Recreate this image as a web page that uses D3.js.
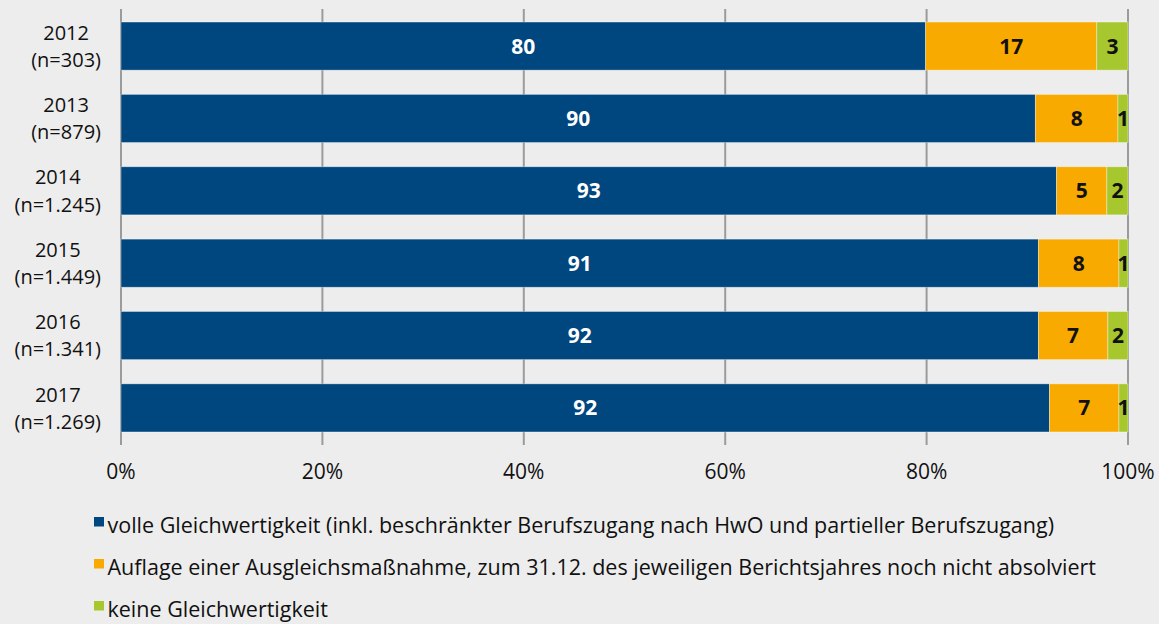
<!DOCTYPE html>
<html>
<head>
<meta charset="utf-8">
<script src="https://cdn.jsdelivr.net/npm/d3@7"></script>
<style>
    body { margin: 0; background: #ededed; }
    svg { display: block; font-family: "Open Sans", sans-serif; }
    .cat-label { font-size: 20px; fill: #111; }
    .tick-label { font-size: 21px; fill: #111; }
    .legend-text { font-size: 21.5px; fill: #111; }
    .value { font-size: 21px; font-weight: bold; }
</style>
</head>
<body>
<script>
const years = ["2012", "2013", "2014", "2015", "2016", "2017"]
const counts = ["n=303", "n=879", "n=1.245", "n=1.449", "n=1.341", "n=1.269"]

// shares as drawn (percent), and the rounded numbers printed on the bars
const fullShare = [79.9, 90.8, 92.9, 91.1, 91.1, 92.2]
const measureShare = [17.0, 8.2, 5.0, 8.0, 6.9, 6.9]
const noneShare = [3.1, 1.0, 2.1, 0.9, 2.0, 0.9]

const fullLabel = [80, 90, 93, 91, 92, 92]
const measureLabel = [17, 8, 5, 8, 7, 7]
const noneLabel = [3, 1, 2, 1, 2, 1]

const ticks = [0, 20, 40, 60, 80, 100]

const seriesNames = [
    "volle Gleichwertigkeit (inkl. beschränkter Berufszugang nach HwO und partieller Berufszugang)",
    "Auflage einer Ausgleichsmaßnahme, zum 31.12. des jeweiligen Berichtsjahres noch nicht absolviert",
    "keine Gleichwertigkeit"
]

const COLORS = ["#00467f", "#f9aa00", "#a6c82e"]
const TEXT_COLORS = ["#ffffff", "#111111", "#111111"]

const WIDTH = 1159
const HEIGHT = 624

const PLOT = {
    left: 121,
    right: 1128,
    top: 9,
    bottom: 445
}

const keys = ["full", "measure", "none"]
const rows = years.map((y, i) => ({
    year: y,
    n: counts[i],
    full: fullShare[i],
    measure: measureShare[i],
    none: noneShare[i],
    labels: [fullLabel[i], measureLabel[i], noneLabel[i]]
}))

const stacked = d3.stack().keys(keys)(rows)

const svg = d3.select("body")
    .append("svg")
    .attr("width", WIDTH)
    .attr("height", HEIGHT)

svg.append("rect")
    .attr("width", WIDTH)
    .attr("height", HEIGHT)
    .attr("fill", "#ededed")

const xScale = d3.scaleLinear()
    .domain([0, 100])
    .range([PLOT.left, PLOT.right])

const yScale = d3.scaleBand()
    .domain(years)
    .range([PLOT.top, PLOT.bottom])
    .paddingInner(0.335)
    .paddingOuter(0.18)

// gridlines
svg.append("g")
    .selectAll("line")
    .data(ticks)
    .enter()
    .append("line")
    .attr("x1", d => xScale(d))
    .attr("x2", d => xScale(d))
    .attr("y1", PLOT.top)
    .attr("y2", PLOT.bottom)
    .attr("stroke", "#9b9b9b")
    .attr("stroke-width", 2)

// bars
const layers = svg.append("g")
    .selectAll("g")
    .data(stacked)
    .enter()
    .append("g")
    .attr("fill", (d, i) => COLORS[i])

layers.selectAll("rect")
    .data(d => d)
    .enter()
    .append("rect")
    .attr("x", d => xScale(d[0]))
    .attr("y", d => yScale(d.data.year))
    .attr("width", d => xScale(d[1]) - xScale(d[0]))
    .attr("height", yScale.bandwidth())
    .attr("stroke", "rgba(255,255,255,0.45)")
    .attr("stroke-width", 0.8)

// value labels
stacked.forEach((layer, i) => {
    svg.append("g")
        .selectAll("text")
        .data(layer)
        .enter()
        .append("text")
        .attr("class", "value")
        .attr("x", d => (xScale(d[0]) + xScale(d[1])) / 2)
        .attr("y", d => yScale(d.data.year) + yScale.bandwidth() / 2)
        .attr("dy", "0.36em")
        .attr("text-anchor", "middle")
        .attr("fill", TEXT_COLORS[i])
        .text(d => d.data.labels[i])
})

// category labels: one text, two centred lines, block right-aligned at x=101
svg.append("g")
    .selectAll("text")
    .data(rows)
    .enter()
    .append("text")
    .attr("class", "cat-label")
    .attr("text-anchor", "middle")
    .each(function (d) {
        const t = d3.select(this)
        const cy = yScale(d.year) + yScale.bandwidth() / 2
        const s1 = t.append("tspan")
            .attr("y", cy - 13.6)
            .attr("dy", "0.36em")
            .text(d.year)
        const s2 = t.append("tspan")
            .attr("y", cy + 13.6)
            .attr("dy", "0.36em")
            .text("(" + d.n + ")")
        const w = Math.max(s1.node().getComputedTextLength(), s2.node().getComputedTextLength())
        s1.attr("x", 101 - w / 2)
        s2.attr("x", 101 - w / 2)
    })

// x tick labels
svg.append("g")
    .selectAll("text")
    .data(ticks)
    .enter()
    .append("text")
    .attr("class", "tick-label")
    .attr("x", d => xScale(d))
    .attr("y", 471)
    .attr("dy", "0.36em")
    .attr("text-anchor", "middle")
    .text(d => d + "%")

// legend
const legend = svg.append("g")
    .selectAll("g")
    .data(seriesNames)
    .enter()
    .append("g")
    .attr("transform", (d, i) => "translate(0, " + (533 + i * 42) + ")")

legend.append("rect")
    .attr("x", 94)
    .attr("y", -16)
    .attr("width", 10)
    .attr("height", 9.5)
    .attr("fill", (d, i) => COLORS[i])

legend.append("text")
    .attr("class", "legend-text")
    .attr("x", 107.5)
    .attr("y", 0)
    .text(d => d)
</script>
</body>
</html>
